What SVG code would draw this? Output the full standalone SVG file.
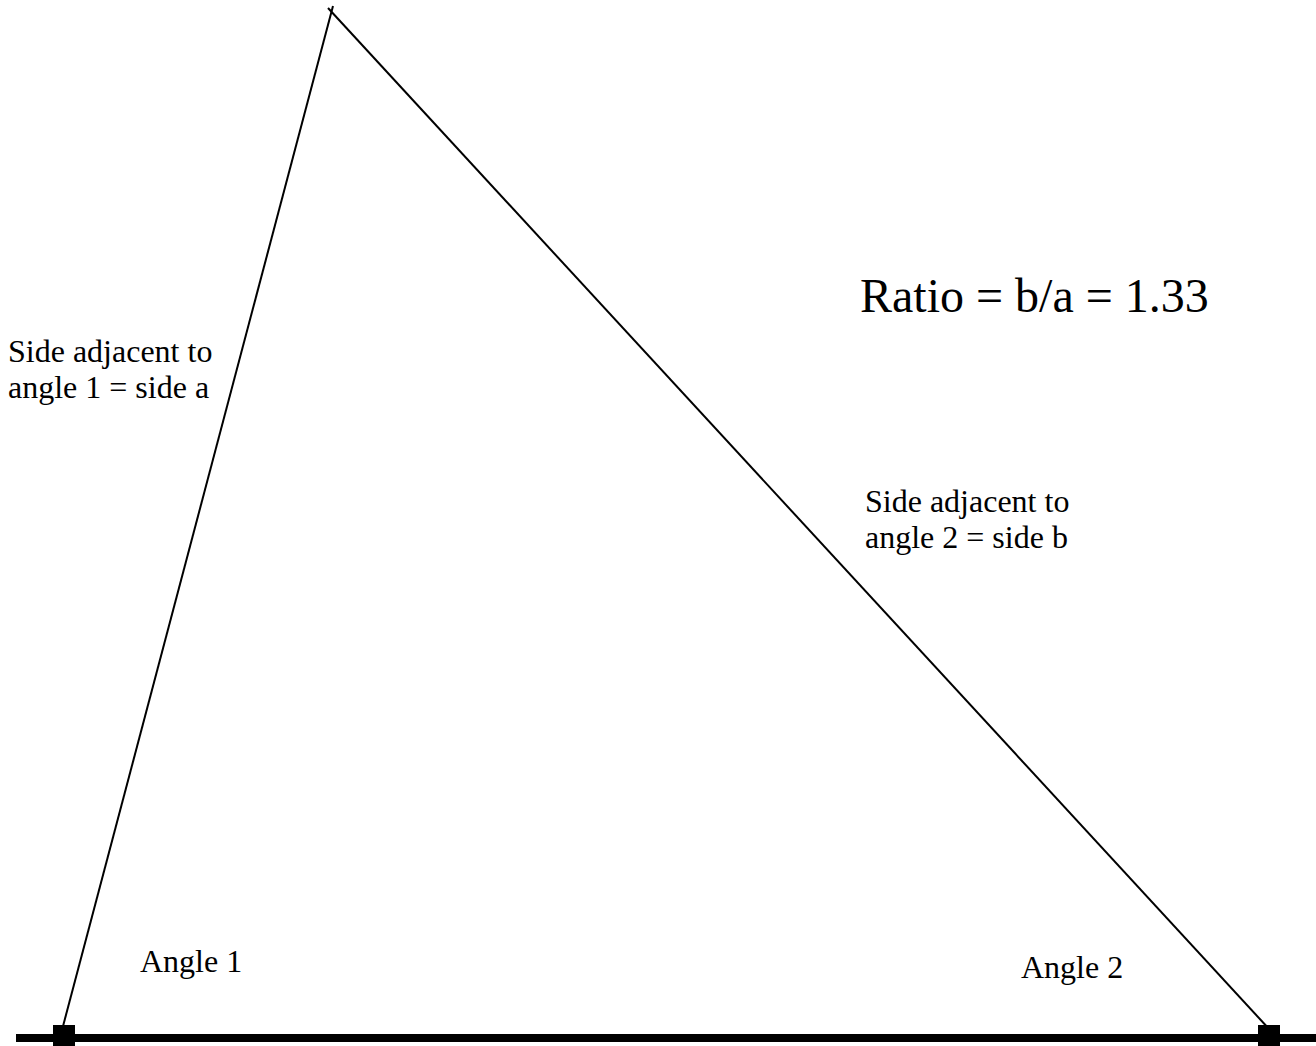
<svg xmlns="http://www.w3.org/2000/svg" width="1316" height="1046" viewBox="0 0 1316 1046">
<style>
.t{font-family:"Liberation Serif","Times New Roman",serif;fill:#000}
.s{font-size:32px}
.edge{stroke:#000;stroke-width:2;fill:none}
</style>
<rect width="1316" height="1046" fill="#fff"/>
<g id="connectors">
<line class="edge" x1="62" y1="1030" x2="333" y2="6"/>
<line class="edge" x1="328" y1="8" x2="1270" y2="1030"/>
<line x1="16" y1="1038" x2="1316" y2="1038" stroke="#000" stroke-width="8"/>
</g>
<g id="vertex1"><rect x="53" y="1025" width="22" height="22" fill="#000"/></g>
<g id="vertex2"><rect x="1258" y="1025" width="22" height="22" fill="#000"/></g>
<g id="ratio"><text class="t" x="860" y="312" font-size="48">Ratio = b/a = 1.33</text></g>
<g id="sideA"><text class="t s" x="8" y="362">Side adjacent to</text><text class="t s" x="8" y="398">angle 1 = side a</text></g>
<g id="sideB"><text class="t s" x="865" y="512">Side adjacent to</text><text class="t s" x="865" y="548">angle 2 = side b</text></g>
<g id="angle1"><text class="t s" x="140" y="972">Angle 1</text></g>
<g id="angle2"><text class="t s" x="1021" y="978">Angle 2</text></g>
</svg>
